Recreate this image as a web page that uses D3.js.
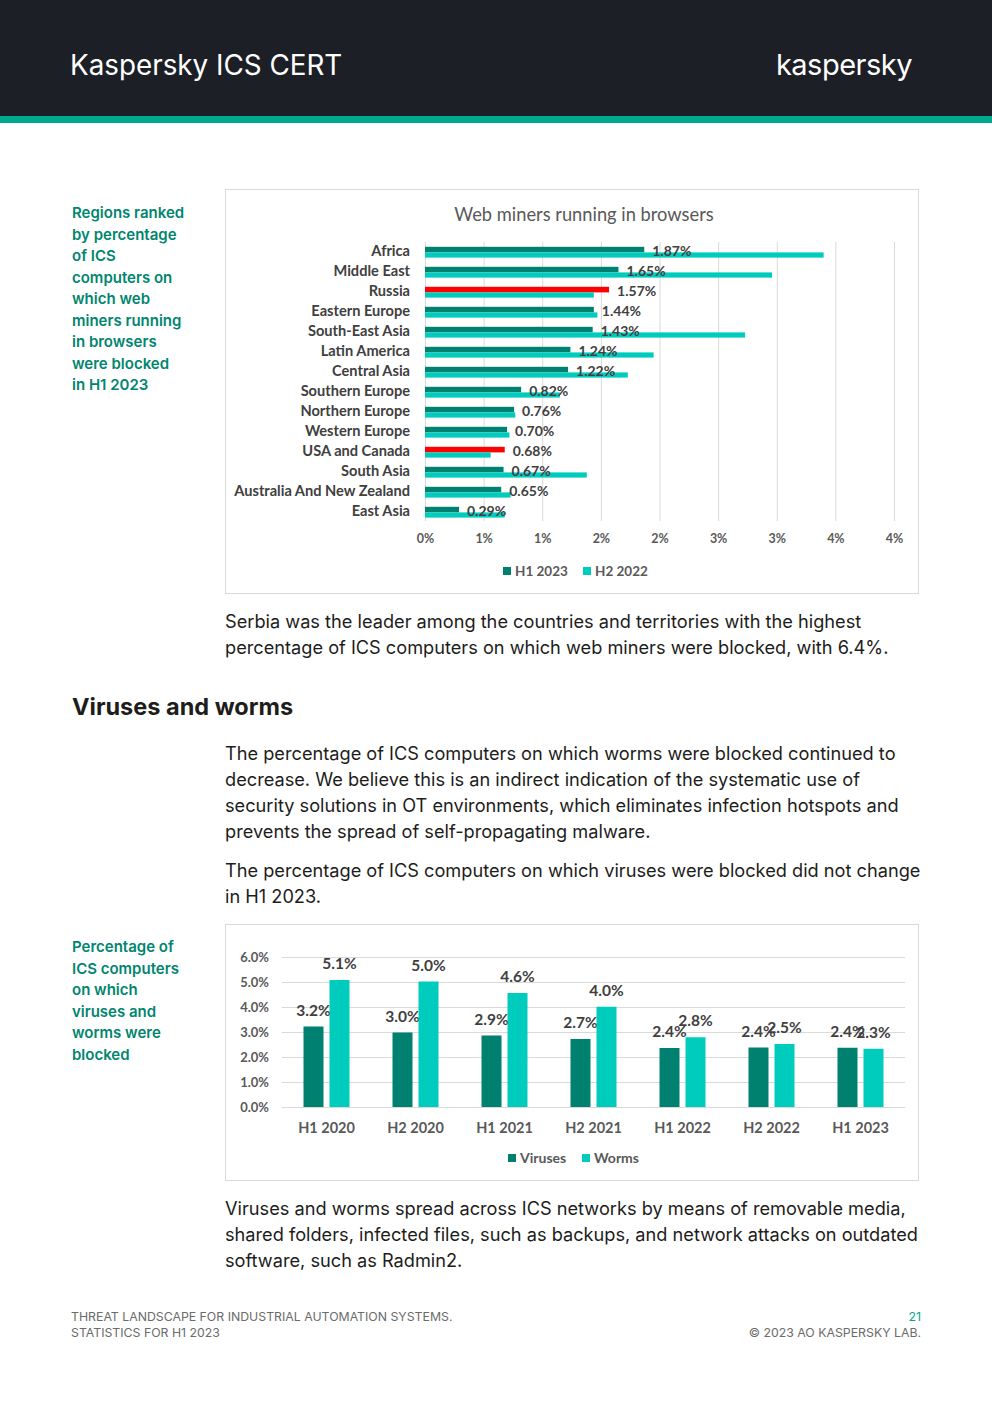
<!DOCTYPE html>
<html>
<head>
<meta charset="utf-8">
<script src="https://cdn.jsdelivr.net/npm/d3@7"></script>
<style>
  html, body { margin: 0; padding: 0; background: #fff; }
  svg { display: block; }
</style>
</head>
<body>
<svg id="page" width="992" height="1403"></svg>
<script>
// ---- data: web miners chart ----
const regions = ['Africa', 'Middle East', 'Russia', 'Eastern Europe', 'South-East Asia', 'Latin America',
  'Central Asia', 'Southern Europe', 'Northern Europe', 'Western Europe', 'USA and Canada', 'South Asia',
  'Australia And New Zealand', 'East Asia'];
const minersH1_2023 = [1.87, 1.65, 1.57, 1.44, 1.43, 1.24, 1.22, 0.82, 0.76, 0.70, 0.68, 0.67, 0.65, 0.29];
const minersH2_2022 = [3.40, 2.96, 1.44, 1.47, 2.73, 1.95, 1.73, 1.15, 0.77, 0.72, 0.56, 1.38, 0.73, 0.68];
const highlighted = ['Russia', 'USA and Canada'];
const minerTicks = [0, 0.5, 1, 1.5, 2, 2.5, 3, 3.5, 4];
const minerTickLabels = ['0%', '1%', '1%', '2%', '2%', '3%', '3%', '4%', '4%'];

// ---- data: viruses and worms chart ----
const periods = ['H1 2020', 'H2 2020', 'H1 2021', 'H2 2021', 'H1 2022', 'H2 2022', 'H1 2023'];
const viruses = [3.22, 2.98, 2.86, 2.72, 2.36, 2.38, 2.37];
const worms = [5.08, 5.02, 4.56, 4.01, 2.79, 2.52, 2.33];
const vwTicks = [0, 1, 2, 3, 4, 5, 6];

const DARK = '#00806e';
const LIGHT = '#00ccbe';
const RED = '#ff0000';
const GREEN_TEXT = '#00856f';
const chartFont = 'Lato, "Open Sans", sans-serif';
const bodyFont = 'Inter, Roboto, sans-serif';

const svg = d3.select('#page');

// header
svg.append('rect').attr('x', 0).attr('y', 0).attr('width', 992).attr('height', 116).attr('fill', '#1d1f27');
svg.append('rect').attr('x', 0).attr('y', 116).attr('width', 992).attr('height', 7).attr('fill', '#00a88e');
svg.append('text').attr('x', 70).attr('y', 75).attr('fill', '#fff')
  .style('font-family', bodyFont).style('font-size', '27.8px')
  .text('Kaspersky ICS CERT');
svg.append('text').attr('x', 912).attr('y', 75).attr('fill', '#fff').attr('text-anchor', 'end')
  .style('font-family', bodyFont).style('font-size', '29px').style('letter-spacing', '-0.5px')
  .text('kaspersky');

// helper for multi-line text
function lines(x, y0, lh, arr, opts) {
  const t = svg.append('text').attr('fill', opts.fill || '#1d1d1b')
    .style('font-family', opts.font || bodyFont)
    .style('font-size', opts.size)
    .style('font-weight', opts.weight || 400);
  arr.forEach((s, i) => {
    t.append('tspan').attr('x', x).attr('y', y0 + i * lh).text(s);
  });
  return t;
}

// side captions
lines(72, 218, 21.5, ['Regions ranked', 'by percentage', 'of ICS', 'computers on', 'which web',
  'miners running', 'in browsers', 'were blocked', 'in H1 2023'],
  { fill: GREEN_TEXT, size: '15px', weight: 600 });
lines(72, 952, 21.6, ['Percentage of', 'ICS computers', 'on which', 'viruses and', 'worms were', 'blocked'],
  { fill: GREEN_TEXT, size: '15px', weight: 600 });

// body text
const bodySize = '18.2px';
lines(225, 628, 26, ['Serbia was the leader among the countries and territories with the highest',
  'percentage of ICS computers on which web miners were blocked, with 6.4%.'], { size: bodySize });
svg.append('text').attr('x', 72).attr('y', 715).attr('fill', '#1d1d1b')
  .style('font-family', bodyFont).style('font-size', '23.5px').style('font-weight', 700)
  .text('Viruses and worms');
lines(225, 760, 26, ['The percentage of ICS computers on which worms were blocked continued to',
  'decrease. We believe this is an indirect indication of the systematic use of',
  'security solutions in OT environments, which eliminates infection hotspots and',
  'prevents the spread of self-propagating malware.'], { size: bodySize });
lines(225, 877, 26, ['The percentage of ICS computers on which viruses were blocked did not change',
  'in H1 2023.'], { size: bodySize });
lines(225, 1215, 26, ['Viruses and worms spread across ICS networks by means of removable media,',
  'shared folders, infected files, such as backups, and network attacks on outdated',
  'software, such as Radmin2.'], { size: bodySize });

// footer
lines(71, 1321, 16, ['THREAT LANDSCAPE FOR INDUSTRIAL AUTOMATION SYSTEMS.', 'STATISTICS FOR H1 2023'],
  { fill: '#6b6b6b', size: '12.3px' });
svg.append('text').attr('x', 921).attr('y', 1321).attr('text-anchor', 'end').attr('fill', '#00a88e')
  .style('font-family', bodyFont).style('font-size', '12.3px').text('21');
svg.append('text').attr('x', 921).attr('y', 1337).attr('text-anchor', 'end').attr('fill', '#6b6b6b')
  .style('font-family', bodyFont).style('font-size', '12.3px').text('© 2023 AO KASPERSKY LAB.');

// ================= chart 1: web miners =================
const c1 = svg.append('g').style('font-family', chartFont);
c1.append('rect').attr('x', 225.5).attr('y', 189.5).attr('width', 693).attr('height', 404)
  .attr('fill', '#fff').attr('stroke', '#d9d9d9');
c1.append('text').attr('x', 584).attr('y', 221).attr('text-anchor', 'middle').attr('fill', '#595959')
  .style('font-size', '18.3px').text('Web miners running in browsers');

const x1 = d3.scaleLinear().domain([0, 4]).range([425, 894]);
const y1 = d3.scaleBand().domain(regions).range([241, 521]);

c1.append('g').selectAll('line').data(minerTicks).join('line')
  .attr('x1', d => x1(d) + 0.5).attr('x2', d => x1(d) + 0.5)
  .attr('y1', 242).attr('y2', 521)
  .attr('stroke', '#d9d9d9');

const rows = regions.map((r, i) => ({ r, h1: minersH1_2023[i], h2: minersH2_2022[i] }));
c1.append('g').selectAll('rect.h1').data(rows).join('rect')
  .attr('x', x1(0)).attr('y', d => y1(d.r) + 5.8)
  .attr('width', d => x1(d.h1) - x1(0)).attr('height', 5.6)
  .attr('fill', d => highlighted.includes(d.r) ? RED : DARK);
c1.append('g').selectAll('rect.h2').data(rows).join('rect')
  .attr('x', x1(0)).attr('y', d => y1(d.r) + 11.4)
  .attr('width', d => x1(d.h2) - x1(0)).attr('height', 5.2)
  .attr('fill', LIGHT);
c1.append('g').selectAll('text').data(rows).join('text')
  .attr('x', d => x1(d.h1) + 8).attr('y', d => y1(d.r) + y1.bandwidth() / 2)
  .attr('dy', '0.35em').attr('fill', '#404040')
  .style('font-size', '14px').style('font-weight', 700)
  .text(d => d.h1.toFixed(2) + '%');

// category axis
const ax1 = c1.append('g').attr('transform', 'translate(425,0)')
  .call(d3.axisLeft(y1).tickSize(0).tickPadding(15));
ax1.select('.domain').remove();
ax1.selectAll('text').attr('fill', '#404040').style('font-size', '14.6px').style('font-weight', 700)
  .style('font-family', chartFont);

// value axis
const bx1 = c1.append('g').attr('transform', 'translate(0,521)')
  .call(d3.axisBottom(x1).tickValues(minerTicks).tickSize(0).tickPadding(13)
    .tickFormat((d, i) => minerTickLabels[i]));
bx1.select('.domain').remove();
bx1.selectAll('text').attr('fill', '#595959').style('font-size', '12.5px').style('font-weight', 700)
  .style('font-family', chartFont);

// legend
const leg1 = c1.append('g').attr('transform', 'translate(503,571)');
[['H1 2023', DARK, 0], ['H2 2022', LIGHT, 80]].forEach(([t, col, dx]) => {
  leg1.append('rect').attr('x', dx).attr('y', -4).attr('width', 8).attr('height', 8).attr('fill', col);
  leg1.append('text').attr('x', dx + 12).attr('y', 0).attr('dy', '0.35em').attr('fill', '#595959')
    .style('font-size', '13.5px').style('font-weight', 700).text(t);
});

// ================= chart 2: viruses and worms =================
const c2 = svg.append('g').style('font-family', chartFont);
c2.append('rect').attr('x', 225.5).attr('y', 924.5).attr('width', 693).attr('height', 256)
  .attr('fill', '#fff').attr('stroke', '#d9d9d9');

const x2 = d3.scaleBand().domain(periods).range([282, 905]);
const y2 = d3.scaleLinear().domain([0, 6]).range([1107, 957]);

c2.append('g').selectAll('line').data(vwTicks).join('line')
  .attr('x1', 282).attr('x2', 905)
  .attr('y1', d => y2(d) + 0.5).attr('y2', d => y2(d) + 0.5)
  .attr('stroke', '#d9d9d9');

const cols = periods.map((p, i) => ({ p, v: viruses[i], w: worms[i] }));
const barW = 20, gap = 6;
function barGroup(key, col, dx) {
  c2.append('g').selectAll('rect').data(cols).join('rect')
    .attr('x', d => x2(d.p) + x2.bandwidth() / 2 + dx)
    .attr('y', d => y2(d[key]))
    .attr('width', barW)
    .attr('height', d => y2(0) - y2(d[key]))
    .attr('fill', col);
  c2.append('g').selectAll('text').data(cols).join('text')
    .attr('x', d => x2(d.p) + x2.bandwidth() / 2 + dx + barW / 2)
    .attr('y', d => y2(d[key]) - 11)
    .attr('text-anchor', 'middle').attr('fill', '#404040')
    .style('font-size', '15.5px').style('font-weight', 700)
    .text(d => d[key].toFixed(1) + '%');
}
barGroup('v', DARK, -barW - gap / 2);
barGroup('w', LIGHT, gap / 2);

const ay2 = c2.append('g').attr('transform', 'translate(269,0)')
  .call(d3.axisLeft(y2).tickValues(vwTicks).tickSize(0).tickPadding(0).tickFormat(d => d.toFixed(1) + '%'));
ay2.select('.domain').remove();
ay2.selectAll('text').attr('fill', '#595959').style('font-size', '13px').style('font-weight', 700)
  .style('font-family', chartFont);

const bx2 = c2.append('g').attr('transform', 'translate(0,1107)')
  .call(d3.axisBottom(x2).tickSize(0).tickPadding(16));
bx2.select('.domain').remove();
bx2.selectAll('text').attr('fill', '#595959').style('font-size', '14.5px').style('font-weight', 700)
  .style('font-family', chartFont);

const leg2 = c2.append('g').attr('transform', 'translate(508,1158)');
[['Viruses', DARK, 0], ['Worms', LIGHT, 74]].forEach(([t, col, dx]) => {
  leg2.append('rect').attr('x', dx).attr('y', -4).attr('width', 8).attr('height', 8).attr('fill', col);
  leg2.append('text').attr('x', dx + 12).attr('y', 0).attr('dy', '0.35em').attr('fill', '#595959')
    .style('font-size', '14px').style('font-weight', 700).text(t);
});
</script>
</body>
</html>
